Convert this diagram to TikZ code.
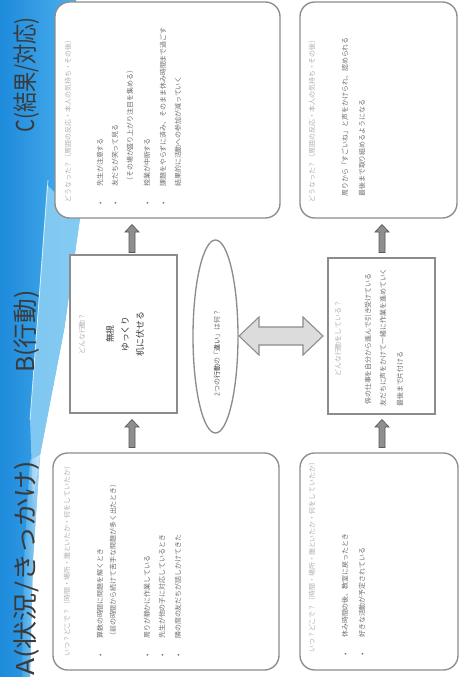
\documentclass[tikz,border=0pt]{standalone}
\usepackage{fontspec}
\usepackage{graphicx}
\newfontfamily\jp{Noto Sans CJK JP}
\usetikzlibrary{shapes.geometric}
\definecolor{blueA}{HTML}{1E8ADB}
\definecolor{blueB}{HTML}{4DB2EE}
\definecolor{blueL}{HTML}{8ED0F4}
\definecolor{boxline}{HTML}{8C8C8C}
\definecolor{txt}{HTML}{707070}
\definecolor{hdr}{HTML}{B0B0B0}
\definecolor{dark}{HTML}{3A3A3A}
\definecolor{arrfill}{HTML}{8E8E8E}
\definecolor{darrfill}{HTML}{DCDCDC}
\newcommand\jsmall{\jp\fontsize{5.2}{6}\selectfont}
\newcommand\jmid{\jp\fontsize{6.6}{11.25}\selectfont}
\newcommand\jtitle{\jp\fontsize{18.5}{20}\selectfont}
\newcommand\bul{\makebox[13.5pt][l]{•}}
\tikzset{
  uparr/.pic={\draw[fill=arrfill, draw=gray!70!black, line width=0.5pt]
     (0,-14) -- (7,-6.5) -- (3,-6.5) -- (3,14) -- (-3,14) -- (-3,-6.5) -- (-7,-6.5) -- cycle;},
  rbox/.style={draw=boxline, line width=1pt, fill=white, rounded corners=11pt, inner sep=0pt},
  sbox/.style={draw=boxline, line width=1pt, fill=white, inner sep=0pt},
  ln/.style={rotate=90, anchor=west, inner sep=0pt, font=\jsmall, text=txt},
  hd/.style={ln, text=hdr},
  ttl/.style={rotate=90, anchor=west, inner sep=0pt, font=\jtitle, text=dark}
}
\begin{document}
\begin{tikzpicture}[x=0.75pt,y=-0.75pt]
\path[use as bounding box] (0,0) rectangle (459,677);
\clip (0,0) rectangle (459,677);
\fill[white] (0,0) rectangle (459,677);
% blue strip
\shade[left color=blueA, right color=blueB] (0,0) -- (76,0) -- (80,218) -- (64,330) -- (40,455) -- (33,560) -- (30,677) -- (0,677) -- cycle;
\fill[blueL, opacity=0.85] (47,185) -- (80,218) -- (64,330) -- (40,455) -- (33,500) -- (30,420) -- cycle;
\draw[white, opacity=0.7, line width=0.6pt] (48,180) -- (30,420);
\shade[left color=blueB, right color=white, opacity=0.6] (30,460) -- (40,455) -- (33,560) -- (30,677) -- (22,677) -- (24,560) -- cycle;
% titles
\node[ttl] (tc) at (27,133) {\scalebox{0.82}[1]{C(結果/対応)}};
\node[ttl] (tb) at (27,373) {B(行動)};
\node[ttl] (ta) at (27,676) {\scalebox{1.14}[1]{A(状況/きっかけ)}};
% boxes
\node[rbox, minimum width=225*0.75pt, minimum height=216*0.75pt] (c1) at (167.5,110) {};
\node[rbox, minimum width=157*0.75pt, minimum height=216*0.75pt] (c2) at (378.5,110) {};
\node[sbox, minimum width=107*0.75pt, minimum height=158*0.75pt] (b1) at (123.5,334) {};
\node[sbox, minimum width=107*0.75pt, minimum height=156*0.75pt] (b2) at (381.5,336) {};
\node[rbox, minimum width=226*0.75pt, minimum height=217*0.75pt] (a1) at (166,561.5) {};
\node[rbox, minimum width=158*0.75pt, minimum height=217*0.75pt] (a2) at (379,561.5) {};
\node[ellipse, draw=boxline, line width=1pt, fill=white, inner sep=0pt,
      minimum width=45*0.75pt, minimum height=193*0.75pt] (ov) at (215.5,336.5) {};
% block arrows
\pic at (132,238.5) {uparr};
\pic at (382,238.5) {uparr};
\pic at (132,433.5) {uparr};
\pic at (382,433.5) {uparr};
\draw[fill=darrfill, draw=boxline, line width=0.8pt]
  (239,336) -- (259,317) -- (259,327) -- (303,327) -- (303,317) -- (323,336)
  -- (303,355) -- (303,345) -- (259,345) -- (259,355) -- cycle;
% C1 text
\node[hd] (c1h) at (68,203) {どうなった？（周囲の反応・本人の気持ち・その後）};
\node[ln] (c1a) at (100,205) {\bul 先生が注意する};
\node[ln] (c1b) at (115,205) {\bul 友だちが笑って見る};
\node[ln] (c1c) at (130,185) {（その場が盛り上がり注目を集める）};
\node[ln] (c1d) at (147,205) {\bul 授業が中断する};
\node[ln] (c1e) at (163,205) {\bul 課題をやらずに済み、そのまま休み時間まで過ごす};
\node[ln] (c1f) at (178,187) {結果的に活動への参加が減っていく};
% C2 text
\node[hd] (c2h) at (312,203) {どうなった？（周囲の反応・本人の気持ち・その後）};
\node[ln] (c2a) at (345,197) {周りから「すごいね」と声をかけられ、認められる};
\node[ln] (c2b) at (362,197) {最後まで取り組めるようになる};
% B1 text
\node[hd] (b1h) at (82,355) {どんな行動？};
\node[rotate=90, inner sep=0pt, font=\jmid, text=dark, align=center] (b1t) at (125,334) {無視\\ゆっくり\\机に伏せる};
% oval text
\node[rotate=90, inner sep=0pt, font=\jsmall, text=txt] (ovt) at (217,353) {2つの\textcolor{dark}{行動}の「\textcolor{dark}{違い}」は何？};
% B2 text
\node[hd] (b2h) at (338,377) {どんな行動をしている？};
\node[ln] (b2a) at (368,405) {係の仕事を自分から進んで引き受けている};
\node[ln] (b2b) at (383,407) {友だちに声をかけて一緒に作業を進めていく};
\node[ln] (b2c) at (400,407) {最後まで片付ける};
% A1 text
\node[hd] (a1h) at (67,657) {いつ？どこで？（時間・場所・誰といたか・何をしていたか）};
\node[ln] (a1a) at (100,657) {\bul 算数の時間に問題を解くとき};
\node[ln] (a1b) at (113,640) {（前の時間から続けて苦手な問題が多く出たとき）};
\node[ln] (a1c) at (147,657) {\bul 周りが静かに作業している};
\node[ln] (a1d) at (162,657) {\bul 先生が他の子に対応しているとき};
\node[ln] (a1e) at (178,657) {\bul 隣の席の友だちが話しかけてきた};
% A2 text
\node[hd] (a2h) at (312,653) {いつ？どこで？（時間・場所・誰といたか・何をしていたか）};
\node[ln] (a2a) at (345,656) {\bul 休み時間の後、教室に戻ったとき};
\node[ln] (a2b) at (362,656) {\bul 好きな活動が予定されている};
\end{tikzpicture}
\end{document}
